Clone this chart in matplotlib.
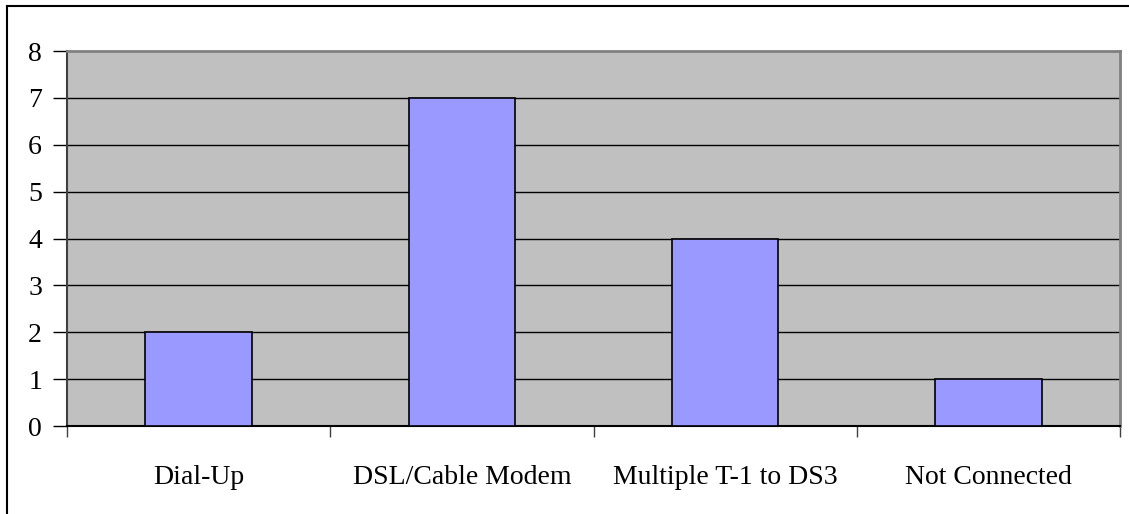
import matplotlib.pyplot as plt
from matplotlib.lines import Line2D
import numpy as np

categories = ["Dial-Up", "DSL/Cable Modem", "Multiple T-1 to DS3", "Not Connected"]
counts = [2, 7, 4, 1]
y_ticks = [0, 1, 2, 3, 4, 5, 6, 7, 8]

plt.rcParams["font.family"] = ["Liberation Serif", "DejaVu Serif"]

fig = plt.figure(figsize=(11.29, 5.14), dpi=100)
W, H = 1129, 514
ax = fig.add_axes([67 / W, (H - 426) / H, (1120 - 67) / W, (426 - 51) / H])
ax.set_facecolor("#C0C0C0")

x = np.arange(len(categories))
ax.bar(x, counts, width=0.405, color="#9999FF", edgecolor="black", linewidth=1.2, zorder=3)

ax.set_xlim(-0.5, len(categories) - 0.5)
ax.set_ylim(0, 8)

# horizontal grid lines
for v in y_ticks[1:-1]:
    ax.axhline(v, color="black", linewidth=1, zorder=1)

ax.set_yticks(y_ticks)
ax.set_yticklabels([str(v) for v in y_ticks], fontsize=20)
ax.tick_params(axis="y", direction="out", length=10, width=1, pad=8, colors="black")

# category boundaries get tick marks, labels sit between them
ax.set_xticks(np.arange(len(categories) + 1) - 0.5)
ax.set_xticklabels([])
ax.set_xticks(x, minor=True)
ax.set_xticklabels(categories, minor=True, fontsize=20)
ax.tick_params(axis="x", which="major", direction="out", length=8, width=1, color="#404040")
ax.tick_params(axis="x", which="minor", length=0, pad=28)

for s in ["top", "right"]:
    ax.spines[s].set_color("#808080")
    ax.spines[s].set_linewidth(2)
ax.spines["left"].set_color("#404040")
ax.spines["left"].set_linewidth(1.5)
ax.spines["bottom"].set_color("black")
ax.spines["bottom"].set_linewidth(1.5)

# outer frame of the chart area
fig.add_artist(Line2D([7 / W, 7 / W], [0, 1 - 6 / H], color="black", linewidth=1.5))
fig.add_artist(Line2D([7 / W, 1], [1 - 6 / H, 1 - 6 / H], color="black", linewidth=1.5))

fig.savefig("out.png", dpi=100)
